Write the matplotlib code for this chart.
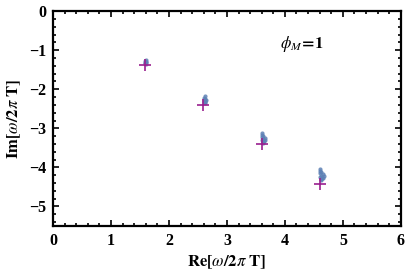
import matplotlib
matplotlib.use("Agg")
import matplotlib.pyplot as plt
from matplotlib.ticker import MultipleLocator

plt.rcParams['mathtext.fontset'] = 'stix'
plt.rcParams['font.family'] = ['Liberation Serif', 'DejaVu Serif']

# Purple crosses (reference modes)
cross_x = [1.58, 2.59, 3.60, 4.61]
cross_y = [-1.38, -2.40, -3.41, -4.42]

# Blue clusters (numerical modes)
c1_x = [1.60, 1.59, 1.60, 1.58, 1.61, 1.59, 1.60]
c1_y = [-1.25, -1.28, -1.30, -1.32, -1.31, -1.34, -1.35]
c2_x = [2.62, 2.61, 2.63, 2.61, 2.64, 2.62, 2.60, 2.63, 2.62]
c2_y = [-2.18, -2.22, -2.24, -2.27, -2.28, -2.31, -2.33, -2.33, -2.36]
c3_x = [3.61, 3.60, 3.63, 3.61, 3.65, 3.62, 3.60, 3.64, 3.62, 3.66, 3.63]
c3_y = [-3.12, -3.17, -3.19, -3.23, -3.25, -3.28, -3.31, -3.32, -3.36, -3.30, -3.37]
c4_x = [4.61, 4.60, 4.63, 4.61, 4.65, 4.62, 4.60, 4.64, 4.62, 4.67, 4.63, 4.66]
c4_y = [-4.03, -4.08, -4.11, -4.15, -4.17, -4.21, -4.24, -4.26, -4.30, -4.22, -4.33, -4.28]

xticks = [0, 1, 2, 3, 4, 5, 6]
yticks = [0, -1, -2, -3, -4, -5]

fig = plt.figure(figsize=(4.07, 2.78), dpi=100)
ax = fig.add_axes([0.130, 0.187, 0.855, 0.773])

blue = '#5E81B5'
for cx, cy in [(c1_x, c1_y), (c2_x, c2_y), (c3_x, c3_y), (c4_x, c4_y)]:
    ax.plot(cx, cy, 'o', color=blue, ms=3.0, mec='none', alpha=0.85)

ax.plot(cross_x, cross_y, '+', color='#9A1F8F', ms=8.5, mew=1.2)

ax.set_xlim(0, 6)
ax.set_ylim(-5.5, 0)
ax.set_xticks(xticks)
ax.set_yticks(yticks)
ax.xaxis.set_minor_locator(MultipleLocator(0.2))
ax.yaxis.set_minor_locator(MultipleLocator(0.2))
ax.set_xticklabels(['0', '1', '2', '3', '4', '5', '6'])
ax.set_yticklabels(['0', '\u22121', '\u22122', '\u22123', '\u22124', '\u22125'])
ax.tick_params(which='both', direction='in', top=True, right=True, width=1.2)
ax.tick_params(which='major', length=4, labelsize=11.5, pad=5)
ax.tick_params(which='minor', length=2)
for lab in ax.get_xticklabels() + ax.get_yticklabels():
    lab.set_fontweight('bold')
for sp in ax.spines.values():
    sp.set_linewidth(1.6)

ax.set_xlabel(r'$\mathbf{Re[}\omega\mathbf{/2}\pi\mathbf{\ T]}$', fontsize=12, labelpad=3)
ax.set_ylabel(r'$\mathbf{Im[}\omega\mathbf{/2}\pi\mathbf{\ T]}$', fontsize=12, labelpad=4)
ax.text(3.92, -0.85, r'$\phi_M\!\mathbf{=}\!\mathbf{1}$', fontsize=12, va='center')

fig.savefig('out.png', dpi=100)
